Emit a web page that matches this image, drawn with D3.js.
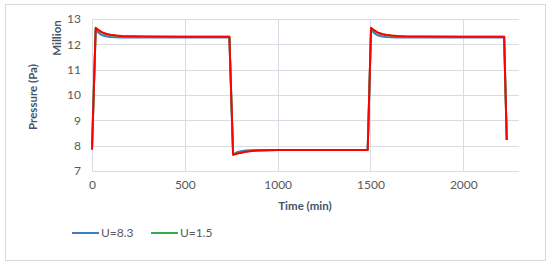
<!DOCTYPE html>
<html>
<head>
<meta charset="utf-8">
<script src="https://cdn.jsdelivr.net/npm/d3@7"></script>
<style>
  body { margin: 0; background: #fff; }
  text { font-family: Lato, "Open Sans", sans-serif; }
</style>
</head>
<body>
<div class="chart"></div>
<script>
// time in minutes
var times = [0, 20, 30, 40, 50, 60, 80, 100, 130, 160, 200, 300, 500, 740, 760, 775, 790, 810, 830, 860, 900, 950, 1000, 1200, 1485,
             1503, 1513, 1523, 1533, 1543, 1563, 1583, 1613, 1643, 1683, 1800, 2000, 2220, 2234];

// pressure, million Pa
var u83 = [7.85, 12.6, 12.5, 12.43, 12.38, 12.35, 12.31, 12.29, 12.28, 12.27, 12.27, 12.27, 12.27, 12.27,
           7.66, 7.72, 7.76, 7.79, 7.81, 7.82, 7.83, 7.83, 7.83, 7.83, 7.83,
           12.6, 12.5, 12.43, 12.38, 12.35, 12.31, 12.29, 12.28, 12.27, 12.27, 12.27, 12.27, 12.27, 8.22];
var u15 = [7.85, 12.64, 12.57, 12.52, 12.47, 12.44, 12.39, 12.36, 12.34, 12.32, 12.31, 12.3, 12.3, 12.3,
           7.65, 7.68, 7.71, 7.74, 7.77, 7.79, 7.81, 7.82, 7.83, 7.83, 7.83,
           12.64, 12.57, 12.52, 12.47, 12.44, 12.39, 12.36, 12.34, 12.32, 12.31, 12.3, 12.3, 12.3, 8.22];
var uRed = [7.85, 12.65, 12.59, 12.54, 12.49, 12.46, 12.41, 12.38, 12.35, 12.33, 12.32, 12.31, 12.3, 12.3,
            7.64, 7.67, 7.7, 7.73, 7.76, 7.79, 7.81, 7.82, 7.83, 7.83, 7.83,
            12.65, 12.59, 12.54, 12.49, 12.46, 12.41, 12.38, 12.35, 12.33, 12.32, 12.31, 12.3, 12.3, 8.22];

var xTicks = [0, 500, 1000, 1500, 2000];
var yTicks = [7, 8, 9, 10, 11, 12, 13];

var series = [
  { name: "U=8.3", values: u83, color: "#3b7cc4", legend: true },
  { name: "U=1.5", values: u15, color: "#2fb14a", legend: true },
  { name: "U=0", values: uRed, color: "#ff0000", legend: false }
];

const svg = d3.select(".chart").append("svg")
    .attr("width", 550)
    .attr("height", 265);

svg.append("rect")
    .attr("x", 5.5).attr("y", 4.5)
    .attr("width", 540).attr("height", 256)
    .attr("fill", "#fff")
    .attr("stroke", "#d9d9d9");

const x = d3.scaleLinear().domain([0, 2300]).range([92, 519]);
const y = d3.scaleLinear().domain([7, 13]).range([171, 19]);

// grid
svg.selectAll(".hgrid").data(yTicks).enter().append("line")
    .attr("x1", 92).attr("x2", 519)
    .attr("y1", d => Math.round(y(d)) + 0.5).attr("y2", d => Math.round(y(d)) + 0.5)
    .attr("stroke", "#d9dde3");
svg.selectAll(".vgrid").data(xTicks).enter().append("line")
    .attr("y1", 19).attr("y2", 171)
    .attr("x1", d => Math.round(x(d)) + 0.5).attr("x2", d => Math.round(x(d)) + 0.5)
    .attr("stroke", "#d9dde3");

// axes labels
const xAxis = svg.append("g").attr("transform", "translate(0,171)")
    .call(d3.axisBottom(x).tickValues(xTicks).tickFormat(d3.format("d")).tickSize(0).tickPadding(9));
const yAxis = svg.append("g").attr("transform", "translate(92,0)")
    .call(d3.axisLeft(y).tickValues(yTicks).tickFormat(d3.format("d")).tickSize(0).tickPadding(11));
[xAxis, yAxis].forEach(function(g) {
  g.select(".domain").remove();
  g.selectAll("text").attr("font-size", 12).attr("fill", "#595959")
      .attr("font-family", "Lato, 'Open Sans', sans-serif");
});

svg.append("text")
    .attr("x", 305).attr("y", 210)
    .attr("text-anchor", "middle")
    .attr("font-size", 11.5).attr("font-weight", "bold").attr("fill", "#44546a")
    .text("Time (min)");
svg.append("text")
    .attr("transform", "translate(37,97) rotate(-90)")
    .attr("text-anchor", "middle")
    .attr("font-size", 11.5).attr("font-weight", "bold").attr("fill", "#44546a")
    .text("Pressure (Pa)");
svg.append("text")
    .attr("transform", "translate(61,38) rotate(-90)")
    .attr("text-anchor", "middle")
    .attr("font-size", 11.5).attr("font-weight", "bold").attr("fill", "#44546a")
    .text("Million");

// lines
const line = d3.line()
    .x((d, i) => x(times[i]))
    .y(d => y(d));

svg.selectAll(".series").data(series).enter().append("path")
    .attr("d", d => line(d.values))
    .attr("fill", "none")
    .attr("stroke", d => d.color)
    .attr("stroke-width", 2)
    .attr("stroke-linejoin", "round");

// legend
const leg = svg.selectAll(".leg").data(series.filter(d => d.legend)).enter().append("g")
    .attr("transform", (d, i) => "translate(" + (72 + i * 79) + ",233)");
leg.append("line")
    .attr("x1", 0).attr("x2", 27).attr("y1", 0).attr("y2", 0)
    .attr("stroke", d => d.color).attr("stroke-width", 2);
leg.append("text")
    .attr("x", 29).attr("y", 4)
    .attr("font-size", 12).attr("fill", "#595959")
    .text(d => d.name);
</script>
</body>
</html>
